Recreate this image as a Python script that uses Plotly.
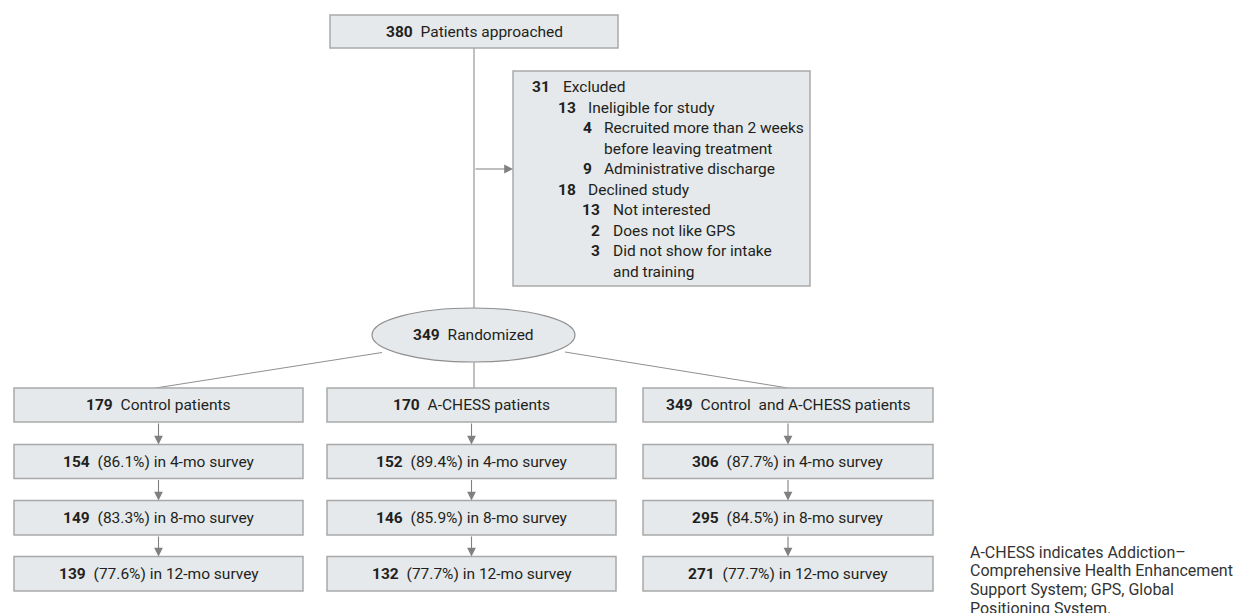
import plotly.graph_objects as go

# ---------------- data ----------------
approached_n = 380
approached_label = "Patients approached"

excluded_levels = [0, 1, 2, None, 2, 1, 3, 3, 3, None]
excluded_numbers = ["31", "13", "4", "", "9", "18", "13", "2", "3", ""]
excluded_texts = ["Excluded", "Ineligible for study", "Recruited more than 2 weeks",
                  "before leaving treatment", "Administrative discharge", "Declined study",
                  "Not interested", "Does not like GPS", "Did not show for intake", "and training"]

randomized_n = 349
randomized_label = "Randomized"

group_labels = ["Control patients", "A-CHESS patients", "Control\u00a0 and A-CHESS patients"]
group_n = [179, 170, 349]

survey_labels = ["4-mo survey", "8-mo survey", "12-mo survey"]
survey_n = [[154, 152, 306], [149, 146, 295], [139, 132, 271]]
survey_pct = [[86.1, 89.4, 87.7], [83.3, 85.9, 84.5], [77.6, 77.7, 77.7]]

caption_lines = ["A-CHESS indicates Addiction\u2013", "Comprehensive Health Enhancement",
                 "Support System; GPS, Global", "Positioning System."]

# ---------------- layout constants ----------------
W, H = 1255, 613
FONT = "Roboto"
TXT = "#231f20"
FILL = "#e5e9eb"
BORDER = "#a9a9a9"
LINE = "#ababab"
ARROW = "#808080"
FS = 15.5

top_box = (330, 15, 618, 48)
excl_box = (513, 71, 810, 286)
trunk_x = 474
ell = (372, 308, 575, 362)
col_x = [(14, 303), (327, 616), (643, 933)]
row_y = [(388, 422), (444.5, 478.5), (500.5, 535), (556.5, 591)]

# excluded box text geometry: number right edge per level, text left edge per level
lvl_num_right = {0: 552, 1: 578, 2: 594, 3: 602}
lvl_txt_left = {0: 560.5, 1: 586, 2: 601.5, 3: 610.5}
excl_y0, excl_dy = 87, 20.5

fig = go.Figure()
shapes = []
ann = []


def box(x0, y0, x1, y1):
    shapes.append(dict(type="rect", x0=x0, y0=y0, x1=x1, y1=y1, xref="x", yref="y",
                       fillcolor=FILL, line=dict(color=BORDER, width=1.5), layer="below"))


def label(x, y, num, text, anchor="center"):
    ann.append(dict(x=x, y=y, xref="x", yref="y", showarrow=False, xanchor=anchor,
                    yanchor="middle", text=f"<b>{num}</b>\u2002{text}",
                    font=dict(family=FONT, size=FS, color=TXT)))


def arrow(x0, y0, x1, y1):
    ann.append(dict(x=x1, y=y1, ax=x0, ay=y0, xref="x", yref="y", axref="x", ayref="y",
                    showarrow=True, arrowhead=2, arrowsize=1.6, arrowwidth=1.1,
                    arrowcolor=ARROW, text=""))


def line(x0, y0, x1, y1, w=1.5, c=LINE):
    shapes.append(dict(type="line", x0=x0, y0=y0, x1=x1, y1=y1, xref="x", yref="y",
                       line=dict(color=c, width=w), layer="below"))


# top box
box(*top_box)
label((top_box[0] + top_box[2]) / 2, (top_box[1] + top_box[3]) / 2, approached_n, approached_label)

# trunk line + arrow to excluded box
line(trunk_x, top_box[3], trunk_x, ell[1])
arrow(trunk_x, 169, excl_box[0], 169)

# excluded box
box(*excl_box)
row = 0
lvl_prev = 0
for lvl, num, txt in zip(excluded_levels, excluded_numbers, excluded_texts):
    y = excl_y0 + row * excl_dy
    L = lvl if lvl is not None else lvl_prev
    if num:
        ann.append(dict(x=lvl_num_right[L], y=y, xref="x", yref="y", showarrow=False,
                        xanchor="right", yanchor="middle", text=f"<b>{num}</b>",
                        font=dict(family=FONT, size=FS, color=TXT)))
    ann.append(dict(x=lvl_txt_left[L], y=y, xref="x", yref="y", showarrow=False,
                    xanchor="left", yanchor="middle", text=txt,
                    font=dict(family=FONT, size=FS, color=TXT)))
    lvl_prev = L
    row += 1

# randomized ellipse
shapes.append(dict(type="circle", x0=ell[0], y0=ell[1], x1=ell[2], y1=ell[3], xref="x", yref="y",
                   fillcolor=FILL, line=dict(color="#8f8f8f", width=1.2), layer="below"))
label((ell[0] + ell[2]) / 2, (ell[1] + ell[3]) / 2, randomized_n, randomized_label)

# connectors from ellipse to the three groups
col_c = [(a + b) / 2 for a, b in col_x]
line(382, 352.5, col_c[0] - 3, row_y[0][0], w=1, c="#8f8f8f")
line(trunk_x, ell[3], trunk_x, row_y[0][0], w=1.5)
line(565, 352, col_c[2], row_y[0][0], w=1, c="#8f8f8f")

# group boxes and survey boxes
for j in range(3):
    x0, x1 = col_x[j]
    cx = (x0 + x1) / 2
    box(x0, row_y[0][0], x1, row_y[0][1])
    label(cx, (row_y[0][0] + row_y[0][1]) / 2, group_n[j], group_labels[j])
    for i in range(3):
        y0, y1 = row_y[i + 1]
        box(x0, y0, x1, y1)
        label(cx, (y0 + y1) / 2, survey_n[i][j],
              f"({survey_pct[i][j]:.1f}%) in {survey_labels[i]}")
        arrow(cx, row_y[i][1], cx, y0)

# caption
cap_y0, cap_dy = 552, 18.8
for k, t in enumerate(caption_lines):
    ann.append(dict(x=968, y=cap_y0 + k * cap_dy, xref="x", yref="y", showarrow=False,
                    xanchor="left", yanchor="middle", text=t,
                    font=dict(family=FONT, size=16, color="#333333")))

fig.update_layout(
    width=W, height=H, margin=dict(l=0, r=0, t=0, b=0),
    paper_bgcolor="white", plot_bgcolor="white",
    xaxis=dict(range=[0, W], visible=False, fixedrange=True),
    yaxis=dict(range=[H, 0], visible=False, fixedrange=True),
    shapes=shapes, annotations=ann, showlegend=False,
)

fig.write_html("out.html", config={"displayModeBar": False},
               post_script="document.body.style.margin='0';document.body.style.overflow='hidden';")
